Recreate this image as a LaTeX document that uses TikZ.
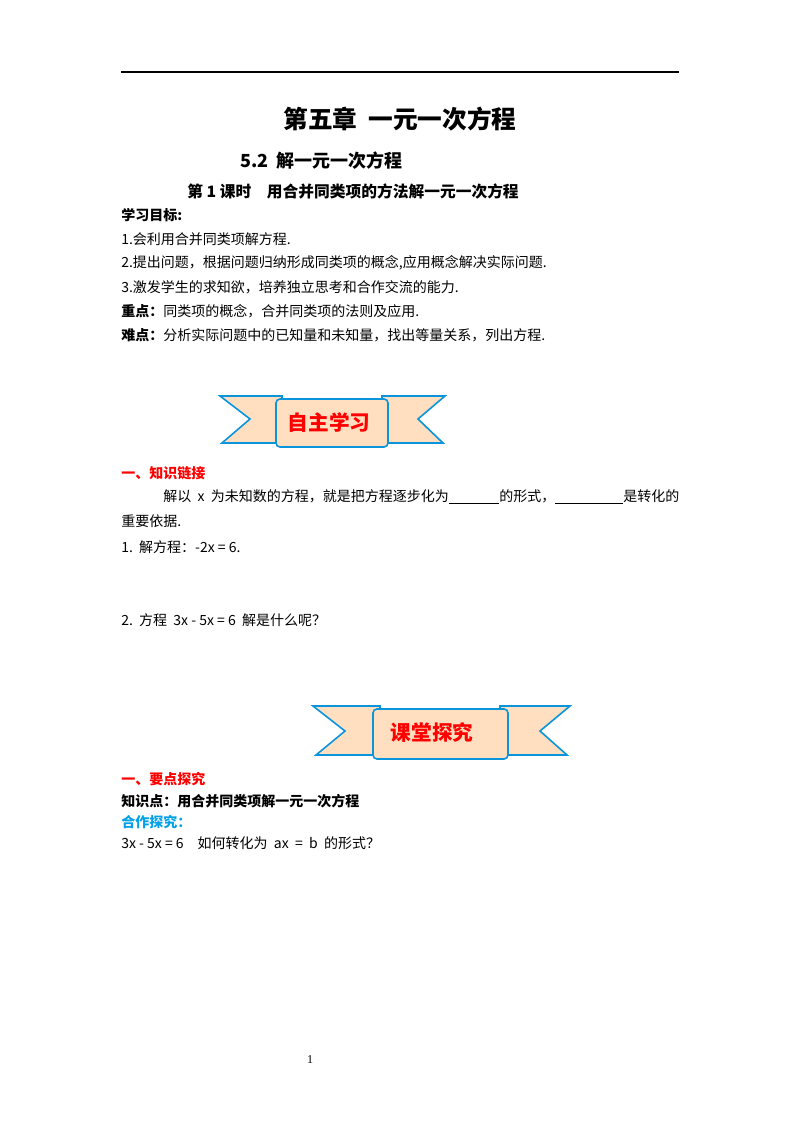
\documentclass[tikz,border=0pt]{standalone}
\usepackage{fontspec}
\setmainfont{Liberation Serif}
\newfontfamily\cjk{Noto Sans CJK SC}
\begin{document}
\begin{tikzpicture}[x=0.75pt,y=-0.75pt,
  t/.style={anchor=west,inner sep=0pt,font=\cjk\fontsize{10.5}{12}\selectfont},
  tb/.style={t,font=\cjk\bfseries\fontsize{10.5}{12}\selectfont},
  tail/.style={draw=cyan!80!blue,line width=1.2pt,fill=orange!25},
  bt/.style={font=\cjk\bfseries\fontsize{15.5}{18}\selectfont,text=red}]
\useasboundingbox (0,0) rectangle (800,1132);
\draw[line width=0.8pt] (121,72) -- (679,72);
\node[font=\cjk\bfseries\fontsize{18.5}{20}\selectfont] (h1) at (400,119) {第五章\ \ 一元一次方程};
\node[tb,font=\cjk\bfseries\fontsize{13.5}{15}\selectfont] (h2) at (240,161) {5.2\ \ 解一元一次方程};
\node[tb,font=\cjk\bfseries\fontsize{11.8}{13}\selectfont] (h3) at (187,191) {第 1 课时\quad 用合并同类项的方法解一元一次方程};
\node[tb] (a0) at (121,215) {学习目标:};
\node[t] (a1) at (121,239) {1.会利用合并同类项解方程.};
\node[t] (a2) at (121,263) {2.提出问题，根据问题归纳形成同类项的概念,应用概念解决实际问题.};
\node[t] (a3) at (121,287) {3.激发学生的求知欲，培养独立思考和合作交流的能力.};
\node[t] (a4) at (121,311) {\textbf{重点：}同类项的概念，合并同类项的法则及应用.};
\node[t] (a5) at (121,335) {\textbf{难点：}分析实际问题中的已知量和未知量，找出等量关系，列出方程.};
% banner 1
\draw[tail] (220,396) -- (282,396) -- (282,443) -- (222,443) -- (250,419) -- cycle;
\draw[tail] (445,396) -- (382,396) -- (382,443) -- (443,443) -- (418,419) -- cycle;
\draw[tail,rounded corners=3pt] (276,399) rectangle (388,447);
\node[bt] (b1) at (329,423) {自主学习};
% banner 2
\draw[tail] (313,706) -- (380,706) -- (380,755) -- (316,755) -- (345,731) -- cycle;
\draw[tail] (570,706) -- (500,706) -- (500,755) -- (567,755) -- (540,731) -- cycle;
\draw[tail,rounded corners=3pt] (373,709) rectangle (508,759);
\node[bt] (b2) at (432,733) {课堂探究};
\node[tb,text=red] (c0) at (121,473) {一、知识链接};
\node[t] (c1) at (163,497) {解以\ \ x\ \ 为未知数的方程，就是把方程逐步化为\underline{\hspace{38pt}}的形式，\underline{\hspace{51pt}}是转化的};
\node[t] (c2) at (121,521) {重要依据.};
\node[t] (c3) at (121,547) {1.\ \ 解方程：-2x = 6.};
\node[t] (c4) at (121,620) {2.\ \ 方程\ \ 3x - 5x = 6\ \ 解是什么呢？};
\node[tb,text=red] (d0) at (121,779) {一、要点探究};
\node[tb] (d1) at (121,801) {知识点：用合并同类项解一元一次方程};
\node[tb,text=cyan!90!blue] (d2) at (121,822) {合作探究：};
\node[t] (d3) at (121,843) {3x - 5x = 6\quad 如何转化为\ \ ax\ \ =\ \ b\ \ 的形式？};
\node[font=\fontsize{9}{10}\selectfont] (pg) at (310,1060) {1};
\end{tikzpicture}
\end{document}
